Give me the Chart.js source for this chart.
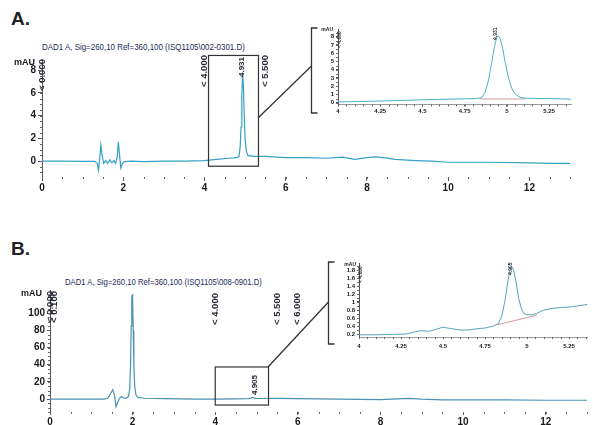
<!DOCTYPE html>
<html lang="en">
<head>
<meta charset="UTF-8">
<title>DAD1 A chromatograms</title>
<script src="https://cdn.jsdelivr.net/npm/chart.js"></script>
<style>
  body { margin: 0; background: #fff; width: 593px; height: 425px; position: relative; overflow: hidden; font-family: "Liberation Sans", Arial, sans-serif; }
  canvas { position: absolute; }
  .panel { position: absolute; font-family: "Liberation Sans Narrow", "Liberation Sans", sans-serif; font-weight: bold; font-size: 19px; color: #222; }
  .title { position: absolute; font-family: "Liberation Sans Narrow", "Liberation Sans", sans-serif; font-size: 9.5px; color: #1c2b57; white-space: nowrap; transform-origin: left center; }
</style>
</head>
<body>

<div class="panel" style="left:11px;top:8px">A.</div>
<div class="panel" style="left:11px;top:238px">B.</div>
<div class="title" id="titleA" data-w="203" style="left:42px;top:41px">DAD1 A, Sig=260,10 Ref=360,100 (ISQ1105\002-0301.D)</div>
<div class="title" id="titleB" data-w="197" style="left:65px;top:276px">DAD1 A, Sig=260,10 Ref=360,100 (ISQ1105\008-0901.D)</div>

<canvas id="mainA" width="593" height="200" style="left:0;top:0"></canvas>
<canvas id="zoomA" width="293" height="100" style="left:300px;top:20px"></canvas>
<canvas id="mainB" width="593" height="200" style="left:0;top:225px"></canvas>
<canvas id="zoomB" width="273" height="110" style="left:320px;top:250px"></canvas>
<canvas id="links" width="593" height="425" style="left:0;top:0;pointer-events:none"></canvas>

<script>
// --- run A (002-0301), time in min, signal in mAU
const traceA = [[0,0],[0.5,0],[1.0,-0.02],[1.3,-0.02],[1.36,-0.2],[1.39,-0.8],[1.42,0.2],[1.45,1.4],[1.48,0.5],
  [1.52,-0.2],[1.57,0.05],[1.62,-0.2],[1.67,0.1],[1.72,-0.15],[1.77,0.05],[1.81,-0.2],[1.85,0.3],[1.88,1.7],
  [1.91,0.5],[1.94,-0.6],[1.98,-0.2],[2.03,-0.05],[2.2,0],[2.5,-0.05],[3.0,0],[3.5,0],[4.0,0.05],[4.3,0.15],
  [4.6,0.25],[4.8,0.3],[4.85,0.4],[4.88,1.3],[4.9,3.0],[4.92,5.8],[4.94,7.7],[4.96,6.5],[4.98,4.0],[5.0,2.0],
  [5.03,0.9],[5.07,0.5],[5.2,0.42],[5.5,0.42],[6.0,0.3],[6.5,0.3],[7.0,0.25],[7.4,0.35],[7.7,0.15],[8.0,0.3],
  [8.2,0.38],[8.4,0.3],[8.7,0.15],[9.2,0.05],[9.6,0],[10.0,-0.1],[11.0,-0.1],[12.0,-0.15],[12.5,-0.2],[13.0,-0.2]];
const zoomTraceA = [[4.0,0.1],[4.1,0.13],[4.25,0.2],[4.4,0.28],[4.5,0.35],[4.6,0.4],[4.75,0.47],[4.82,0.5],
  [4.85,0.6],[4.87,1.2],[4.89,2.6],[4.91,4.8],[4.925,6.6],[4.94,7.9],[4.95,8.1],[4.96,7.8],[4.975,6.6],
  [4.99,4.9],[5.01,3.0],[5.03,1.7],[5.05,1.0],[5.08,0.65],[5.11,0.55],[5.2,0.5],[5.3,0.48],[5.38,0.42]];
const baselineA = [[4.84,0.45],[5.11,0.45]];
const eventsA = [0.0, 4.0, 5.5];
const peaksA = [4.931];
const boxA = { x: [4.1, 5.33], y: [-0.45, 9.3] };

// --- run B (008-0901)
const traceB = [[0,0],[0.8,0],[1.3,0],[1.4,1],[1.46,6],[1.52,11],[1.56,5],[1.6,-9],[1.64,-4],[1.68,1],
  [1.73,3],[1.78,1.5],[1.84,1],[1.9,3],[1.93,12],[1.95,40],[1.965,85],[1.98,118],[1.99,122],[2.0,115],
  [2.015,80],[2.03,40],[2.05,15],[2.08,5],[2.13,2],[2.3,1],[2.8,0.5],[3.5,0],[4.0,0],[4.5,0.3],[4.8,0.5],
  [4.86,1.2],[4.905,2],[4.95,1.2],[5.0,0.7],[5.5,0.9],[6.0,0.5],[6.5,0.3],[7.0,0],[7.5,-0.2],[8.0,-0.6],
  [8.4,0.2],[8.7,0.9],[9.0,0],[9.5,-0.8],[10,-1],[11,-1],[12,-1.3],[13,-1.3]];
const zoomTraceB = [[4.0,0.18],[4.1,0.18],[4.2,0.19],[4.28,0.2],[4.32,0.24],[4.36,0.28],[4.42,0.27],
  [4.46,0.32],[4.5,0.37],[4.54,0.34],[4.6,0.3],[4.65,0.3],[4.7,0.33],[4.75,0.35],[4.8,0.4],[4.83,0.46],
  [4.85,0.65],[4.87,1.05],[4.885,1.5],[4.9,1.82],[4.91,1.88],[4.92,1.8],[4.935,1.5],[4.95,1.1],[4.965,0.85],
  [4.98,0.72],[5.0,0.68],[5.03,0.68],[5.06,0.72],[5.1,0.8],[5.15,0.84],[5.2,0.86],[5.26,0.88],[5.3,0.9],[5.36,0.94]];
const baselineB = [[4.82,0.43],[5.06,0.67]];
const eventsB = [0.0, 0.1, 4.0, 5.5, 6.0];
const peaksB = [4.905];
const boxB = { x: [4.0, 5.29], y: [-6.9, 37.4] };

// tick labels
const mainTicksX = [0, 2, 4, 6, 8, 10, 12];
const ticksYA = [0, 2, 4, 6, 8];
const ticksYB = [0, 20, 40, 60, 80, 100];
const zoomTicksX = [4, 4.25, 4.5, 4.75, 5, 5.25];
const zoomTicksYA = [0, 1, 2, 3, 4, 5, 6, 7, 8];
const zoomTicksYB = [0.2, 0.4, 0.6, 0.8, 1, 1.2, 1.4, 1.6, 1.8];

const FAM = '"Liberation Sans", Arial, sans-serif';
const TEXT = '#1a1a1a';

// rotated event / retention time labels
function labelPlugin(items, unit) {
  return {
    id: 'rtLabels',
    afterDraw(chart) {
      const ctx = chart.ctx, xs = chart.scales.x, ca = chart.chartArea;
      ctx.save();
      ctx.fillStyle = '#262a36';
      items.forEach(m => {
        ctx.save();
        ctx.translate(xs.getPixelForValue(m.t) + (m.dx || 0), m.bottom);
        ctx.rotate(-Math.PI / 2);
        ctx.font = m.font;
        ctx.textBaseline = 'middle';
        ctx.textAlign = 'left';
        ctx.fillText(m.text, 0, 0);
        ctx.restore();
      });
      // axis unit
      ctx.fillStyle = TEXT;
      ctx.font = unit.font;
      ctx.textAlign = 'right';
      ctx.textBaseline = 'middle';
      ctx.fillText('mAU', ca.left - unit.dx, ca.top + unit.dy);
      ctx.restore();
    }
  };
}

// small unlabelled ticks between the numbered ones
function minorPlugin(stepX, stepY, len) {
  return {
    id: 'minorTicks',
    afterDraw(chart) {
      const ctx = chart.ctx, xs = chart.scales.x, ys = chart.scales.y, ca = chart.chartArea;
      ctx.save();
      ctx.strokeStyle = '#666';
      ctx.lineWidth = 1;
      ctx.beginPath();
      for (let v = Math.ceil(xs.min / stepX) * stepX; v <= xs.max + 1e-9; v += stepX) {
        const p = Math.round(xs.getPixelForValue(v)) + 0.5;
        ctx.moveTo(p, ca.bottom); ctx.lineTo(p, ca.bottom + len);
      }
      for (let v = Math.ceil(ys.min / stepY) * stepY; v <= ys.max + 1e-9; v += stepY) {
        const p = Math.round(ys.getPixelForValue(v)) + 0.5;
        ctx.moveTo(ca.left, p); ctx.lineTo(ca.left - len, p);
      }
      ctx.stroke();
      ctx.restore();
    }
  };
}

// zoom window drawn on the full chromatogram
function boxPlugin(box) {
  return {
    id: 'zoomBox',
    afterDraw(chart) {
      const ctx = chart.ctx, xs = chart.scales.x, ys = chart.scales.y;
      const x0 = xs.getPixelForValue(box.x[0]), x1 = xs.getPixelForValue(box.x[1]);
      const y0 = ys.getPixelForValue(box.y[1]), y1 = ys.getPixelForValue(box.y[0]);
      ctx.save();
      ctx.strokeStyle = '#333';
      ctx.lineWidth = 1.2;
      ctx.strokeRect(x0, y0, x1 - x0, y1 - y0);
      ctx.restore();
    }
  };
}

function line(pts, color, width) {
  return { data: pts.map(p => ({ x: p[0], y: p[1] })), borderColor: color, borderWidth: width,
           pointRadius: 0, tension: 0, fill: false };
}

function makeChart(id, c) {
  return new Chart(document.getElementById(id), {
    type: 'line',
    data: { datasets: c.sets },
    options: {
      responsive: false, animation: false, devicePixelRatio: 1,
      layout: { padding: c.pad },
      plugins: { legend: { display: false }, tooltip: { enabled: false } },
      scales: {
        x: {
          type: 'linear', min: c.x[0], max: c.x[1],
          afterFit: s => { s.height = c.xh; },
          afterBuildTicks: s => { s.ticks = c.xt.map(v => ({ value: v })); },
          ticks: { autoSkip: false, maxRotation: 0, color: TEXT, padding: c.tp[0],
                   font: { family: FAM, size: c.fs, weight: 'bold' }, callback: v => String(v) },
          grid: { drawOnChartArea: false, tickLength: c.tl, color: '#555' },
          border: { display: c.xBorder, color: '#999' }
        },
        y: {
          min: c.y[0], max: c.y[1],
          afterFit: s => { s.width = c.yw; },
          afterBuildTicks: s => { s.ticks = c.yt.map(v => ({ value: v })); },
          ticks: { autoSkip: false, color: TEXT, padding: c.tp[1],
                   font: { family: FAM, size: c.fs, weight: 'bold' }, callback: v => String(v) },
          grid: { drawOnChartArea: false, tickLength: c.tl, color: '#555' },
          border: { color: '#555' }
        }
      }
    },
    plugins: c.plugins
  });
}

const big = 'bold 9.5px ' + FAM;
const tiny = 'bold 5px ' + FAM;

makeChart('mainA', {
  sets: [line(traceA, '#33a2c4', 1.2)],
  pad: { left: 0, right: 23, top: 60, bottom: 0 },
  x: [0, 13], y: [-1.4, 8.9], xt: mainTicksX, yt: ticksYA,
  xh: 23, yw: 42, tl: 4, tp: [1, 2], fs: 10, xBorder: false,
  plugins: [
    labelPlugin(eventsA.map(t => ({ t, text: '< ' + t.toFixed(3), bottom: t === 0 ? 91 : 87, font: big }))
      .concat(peaksA.map(t => ({ t, text: t.toFixed(3), bottom: 77, font: 'bold 8px ' + FAM }))),
      { font: 'bold 9px ' + FAM, dx: 7, dy: 3 }),
    minorPlugin(0.5, 0.5, 2), boxPlugin(boxA)
  ]
});

makeChart('zoomA', {
  sets: [line(zoomTraceA, '#4fb0c6', 1), line(baselineA, '#d49a9a', 1)],
  pad: { left: 0, right: 22, top: 9, bottom: 0 },
  x: [4, 5.38], y: [-0.22, 8.93], xt: zoomTicksX, yt: zoomTicksYA,
  xh: 15.5, yw: 38, tl: 2, tp: [1, 2], fs: 6, xBorder: true,
  plugins: [
    labelPlugin([{ t: 4, text: '< 4.000', bottom: 28, dx: 2, font: tiny }]
      .concat(peaksA.map(t => ({ t, text: t.toFixed(3), bottom: 20, font: tiny }))),
      { font: tiny, dx: 5, dy: 1 }),
    minorPlugin(0.05, 0.5, 2)
  ]
});

makeChart('mainB', {
  sets: [line(traceB, '#4a92b4', 1.2)],
  pad: { left: 0, right: 6, top: 65, bottom: 0 },
  x: [0, 13], y: [-15, 127], xt: mainTicksX, yt: ticksYB,
  xh: 13, yw: 50, tl: 3, tp: [1, 2], fs: 10, xBorder: false,
  plugins: [
    labelPlugin(eventsB.map(t => ({ t, text: '< ' + t.toFixed(3), bottom: t < 1 ? 98 : 100, font: big }))
      .concat(peaksB.map(t => ({ t, text: t.toFixed(3), bottom: 170, dx: 2, font: 'bold 8px ' + FAM }))),
      { font: 'bold 9px ' + FAM, dx: 8, dy: 4 }),
    minorPlugin(0.5, 5, 2), boxPlugin(boxB)
  ]
});

makeChart('zoomB', {
  sets: [line(zoomTraceB, '#58a3bf', 1), line(baselineB, '#d49a9a', 1)],
  pad: { left: 0, right: 5.5, top: 13, bottom: 0 },
  x: [4, 5.36], y: [0.125, 1.975], xt: zoomTicksX, yt: zoomTicksYB,
  xh: 23, yw: 39, tl: 2, tp: [4, 2], fs: 6, xBorder: true,
  plugins: [
    labelPlugin([{ t: 4, text: '< 4.000', bottom: 33, dx: 2, font: tiny }]
      .concat(peaksB.map(t => ({ t, text: t.toFixed(3), bottom: 25, font: tiny }))),
      { font: tiny, dx: 3, dy: 2 }),
    minorPlugin(0.05, 0.1, 2)
  ]
});

// brackets and leader lines joining each zoom window to its inset
const lk = document.getElementById('links').getContext('2d');
lk.strokeStyle = '#333';
lk.lineWidth = 1.3;
function bracket(x, y0, y1, w) {
  lk.beginPath();
  lk.moveTo(x + w, y0); lk.lineTo(x, y0); lk.lineTo(x, y1); lk.lineTo(x + w, y1);
  lk.stroke();
}
function leader(x0, y0, x1, y1) {
  lk.beginPath(); lk.moveTo(x0, y0); lk.lineTo(x1, y1); lk.stroke();
}
bracket(311.5, 28, 113, 6);
leader(258, 118, 311.5, 66);
bracket(328.5, 262, 344, 6);
leader(268, 367, 328.5, 302);

// squeeze the run titles to the printer's narrow face
document.querySelectorAll('.title').forEach(el => {
  el.style.transform = 'scaleX(' + (el.dataset.w / el.offsetWidth) + ')';
});
</script>
</body>
</html>
